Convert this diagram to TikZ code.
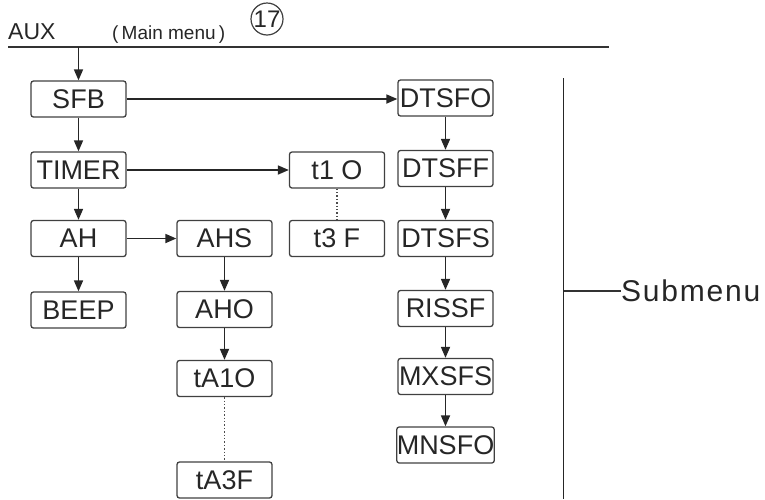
\documentclass[tikz,border=0pt]{standalone}
\usepackage{fontspec}
\setmainfont{Liberation Sans}
\usepackage{tikz}
\usetikzlibrary{arrows.meta}

\tikzset{
    menubox/.style={draw=black!75, line width=1.3pt, rounded corners=2.5pt,
        minimum width=95pt, minimum height=36pt, inner sep=0pt, text=black!85,
        font=\fontsize{27}{27}\selectfont},
    flow/.style={-{Triangle[length=11pt,width=9pt]}, line width=1.7pt, draw=black!85},
    skip/.style={dotted, line width=1.4pt, draw=black!70}
}

\begin{document}
\begin{tikzpicture}[x=1pt,y=-1pt]
    \useasboundingbox (0,0) rectangle (765,499);
    % --- HEADER ---
    \node[anchor=base west, inner sep=0pt, font=\fontsize{23}{23}\selectfont, text=black!85] (aux) at (8,39) {AUX};
    \node[anchor=base west, inner sep=0pt, font=\fontsize{19}{19}\selectfont, text=black!85] (main) at (112,39) {(\,Main menu\,)};
    \node[circle, draw=black!75, line width=1.2pt, minimum size=32pt, inner sep=0pt,
          font=\fontsize{24}{24}\selectfont, text=black!85] (num) at (267,19) {17};
    \coordinate (hl) at (8,47);
    \coordinate (hr) at (609,47);
    \coordinate (top) at (78.5,47);
    \draw[line width=1.6pt, black!80] (hl) -- (hr);

    % --- MAIN COLUMN ---
    \node[menubox] (sfb) at (78.5,99) {SFB};
    \node[menubox] (timer) at (78.5,170) {TIMER};
    \node[menubox] (ah) at (78.5,238.5) {AH};
    \node[menubox] (beep) at (78.5,310) {BEEP};

    % --- AH BRANCH ---
    \node[menubox] (ahs) at (224.5,238.5) {AHS};
    \node[menubox] (aho) at (224.5,309.5) {AHO};
    \node[menubox] (ta1o) at (224.5,378.5) {tA1O};
    \node[menubox] (ta3f) at (224.5,480) {tA3F};

    % --- TIMER BRANCH ---
    \node[menubox] (t1o) at (337,170) {t1 O};
    \node[menubox] (t3f) at (337,238.5) {t3 F};

    % --- SFB BRANCH ---
    \node[menubox] (dtsfo) at (445.5,98) {DTSFO};
    \node[menubox] (dtsff) at (445.5,168.5) {DTSFF};
    \node[menubox] (dtsfs) at (445.5,238.5) {DTSFS};
    \node[menubox] (rissf) at (445.5,308.5) {RISSF};
    \node[menubox] (mxsfs) at (445.5,376.5) {MXSFS};
    \node[menubox] (mnsfo) at (445.5,445) {MNSFO};

    \draw[flow] (top) -- (sfb);
    \draw[flow] (sfb) -- (timer);
    \draw[flow] (timer) -- (ah);
    \draw[flow] (ah) -- (beep);
    \draw[flow] (sfb.east) -- (dtsfo.west |- sfb.east);
    \draw[flow] (timer) -- (t1o);
    \draw[flow] (ah) -- (ahs);
    \draw[flow] (ahs) -- (aho);
    \draw[flow] (aho) -- (ta1o);
    \draw[skip] (ta1o) -- (ta3f);
    \draw[skip] (t1o) -- (t3f);
    \draw[flow] (dtsfo) -- (dtsff);
    \draw[flow] (dtsff) -- (dtsfs);
    \draw[flow] (dtsfs) -- (rissf);
    \draw[flow] (rissf) -- (mxsfs);
    \draw[flow] (mxsfs) -- (mnsfo);

    % --- SUBMENU BRACKET ---
    \coordinate (vtop) at (563.5,78);
    \coordinate (vbot) at (563.5,499);
    \coordinate (vmid) at (563.5,291);
    \draw[line width=1.7pt, black!85] (vtop) -- (vbot);
    \node[anchor=west, inner sep=0pt, text=black!85,
          font=\fontsize{30}{30}\selectfont\addfontfeature{LetterSpace=6}] (sub) at (621,291) {Submenu};
    \draw[line width=1.3pt, black!80] (vmid) -- (sub);
\end{tikzpicture}
\end{document}
